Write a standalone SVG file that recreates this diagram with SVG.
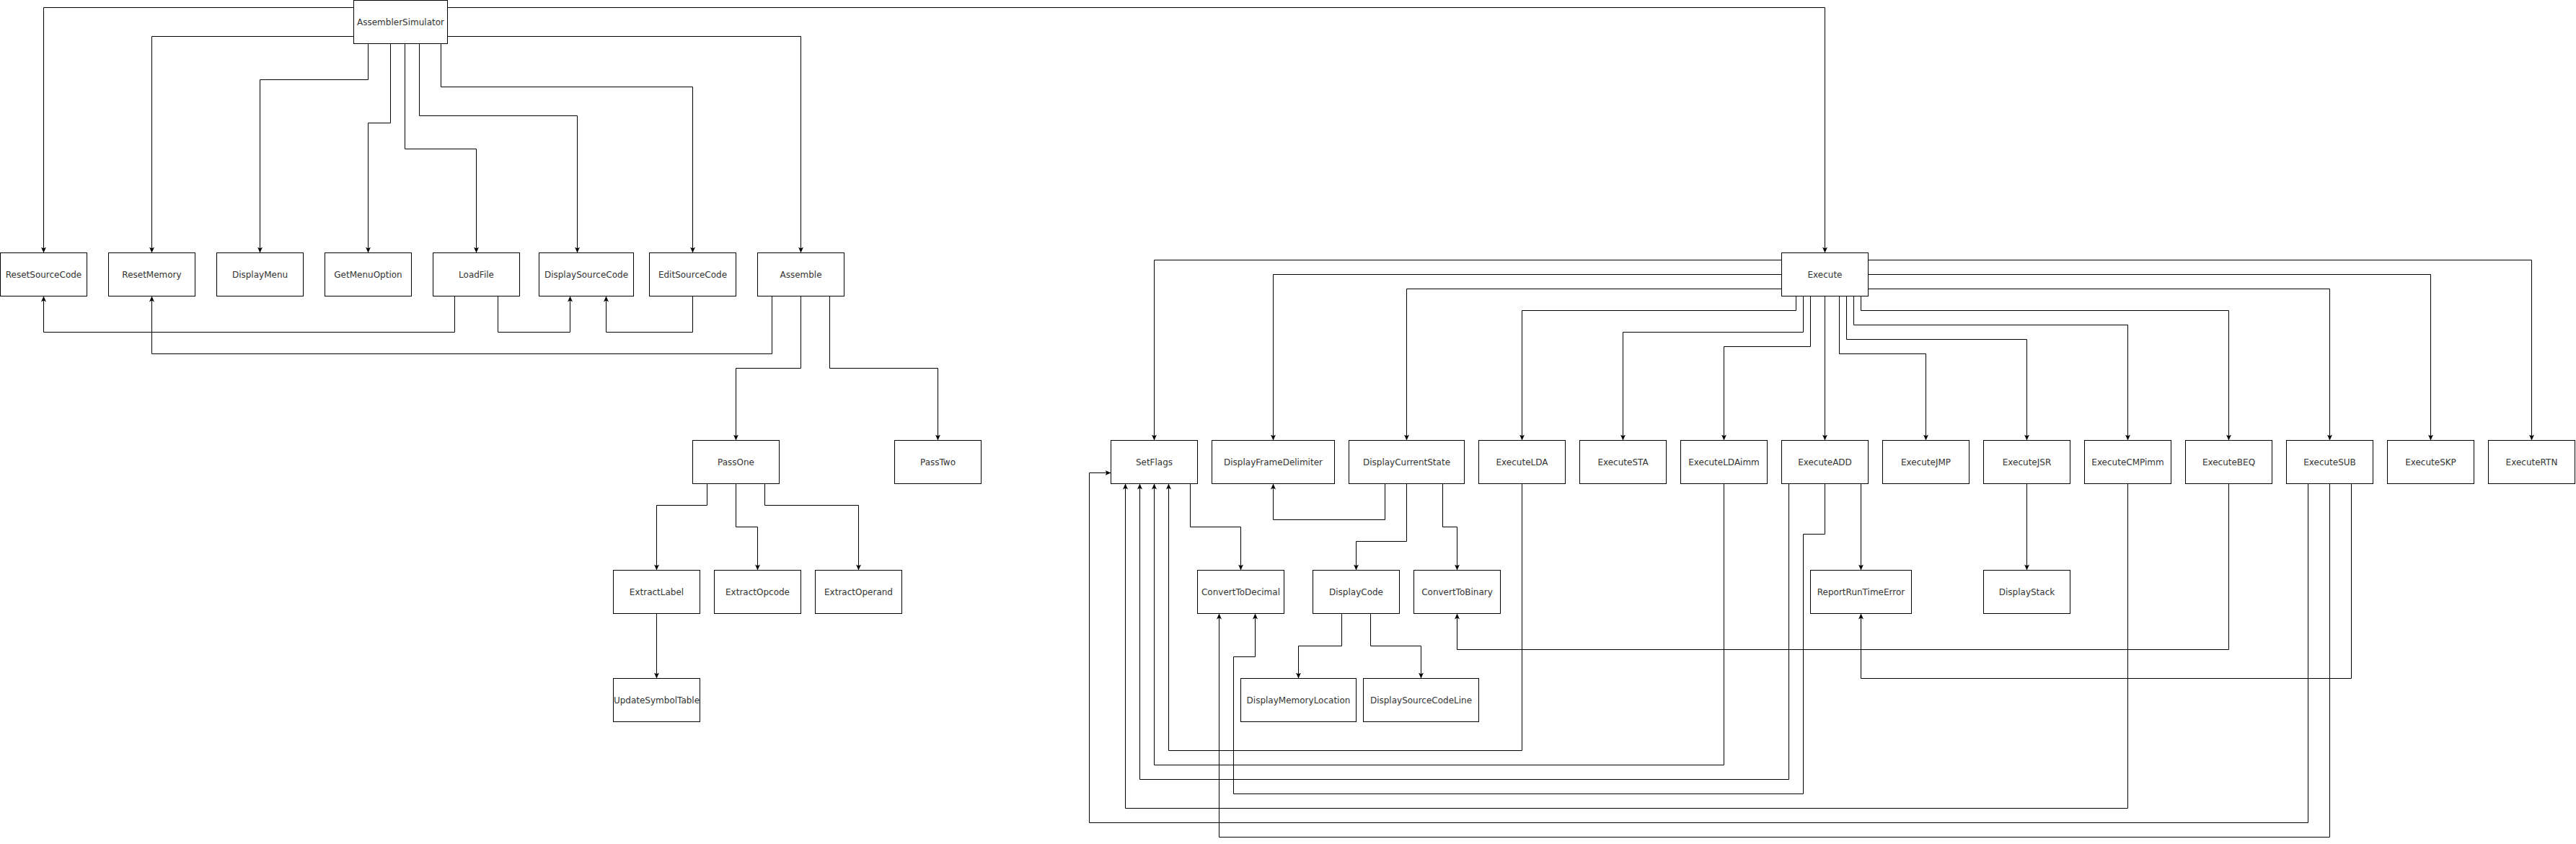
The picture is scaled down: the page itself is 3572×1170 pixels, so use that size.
<svg xmlns="http://www.w3.org/2000/svg" width="3572" height="1170" viewBox="0 0 3572 1170">
<style>
.n rect{fill:#fff;stroke:#000;stroke-width:1}
.n text{font-family:"DejaVu Sans",Verdana,sans-serif;font-size:12px;fill:#333;text-anchor:middle}
#edges path{fill:none;stroke:#000;stroke-width:1;marker-end:url(#a)}
</style>
<defs>
<marker id="a" markerUnits="userSpaceOnUse" markerWidth="8" markerHeight="8" viewBox="0 0 8 8" refX="8" refY="4" orient="auto">
<path d="M0,0.5 L8,4 L0,7.5 L2,4 Z" fill="#000"/>
</marker>
</defs>
<rect width="3572" height="1170" fill="#fff"/>
<g transform="translate(0.5,0.5)">
<g id="edges">
<path d="M490,10 H60 V350"/>
<path d="M490,50 H210 V350"/>
<path d="M510,60 V110 H360 V350"/>
<path d="M541,60 V170 H510 V350"/>
<path d="M561,60 V206 H660 V350"/>
<path d="M581,60 V160 H800 V350"/>
<path d="M611,60 V120 H960 V350"/>
<path d="M620,50 H1110 V350"/>
<path d="M620,10 H2530 V350"/>
<path d="M630,410 V460 H60 V410"/>
<path d="M690,410 V460 H790 V410"/>
<path d="M960,410 V460 H840 V410"/>
<path d="M1070,410 V490 H210 V410"/>
<path d="M1110,410 V510 H1020 V610"/>
<path d="M1150,410 V510 H1300 V610"/>
<path d="M980,670 V700 H910 V790"/>
<path d="M1020,670 V730 H1050 V790"/>
<path d="M1060,670 V700 H1190 V790"/>
<path d="M910,850 V940"/>
<path d="M2470,360 H1600 V610"/>
<path d="M2470,380 H1765 V610"/>
<path d="M2470,400 H1950 V610"/>
<path d="M2490,410 V430 H2110 V610"/>
<path d="M2500,410 V460 H2250 V610"/>
<path d="M2510,410 V480 H2390 V610"/>
<path d="M2530,410 V610"/>
<path d="M2550,410 V490 H2670 V610"/>
<path d="M2560,410 V470 H2810 V610"/>
<path d="M2570,410 V450 H2950 V610"/>
<path d="M2580,410 V430 H3090 V610"/>
<path d="M2590,400 H3230 V610"/>
<path d="M2590,380 H3370 V610"/>
<path d="M2590,360 H3510 V610"/>
<path d="M1650,670 V730 H1720 V790"/>
<path d="M1920,670 V720 H1765 V670"/>
<path d="M1950,670 V750 H1880 V790"/>
<path d="M2000,670 V730 H2020 V790"/>
<path d="M1860,850 V895 H1800 V940"/>
<path d="M1900,850 V895 H1970 V940"/>
<path d="M2110,670 V1040 H1620 V670"/>
<path d="M2390,670 V1060 H1600 V670"/>
<path d="M2480,670 V1080 H1580 V670"/>
<path d="M2530,670 V740 H2500 V1100 H1710 V910 H1740 V850"/>
<path d="M2580,670 V790"/>
<path d="M2810,670 V790"/>
<path d="M2950,670 V1120 H1560 V670"/>
<path d="M3090,670 V900 H2020 V850"/>
<path d="M3260,670 V940 H2580 V850"/>
<path d="M3200,670 V1140 H1510 V655 H1540"/>
<path d="M3230,670 V1160 H1690 V850"/>
</g>
<g id="AssemblerSimulator" class="n"><rect x="490" y="0" width="130" height="60"/><text x="555" y="34">AssemblerSimulator</text></g>
<g id="ResetSourceCode" class="n"><rect x="0" y="350" width="120" height="60"/><text x="60" y="384">ResetSourceCode</text></g>
<g id="ResetMemory" class="n"><rect x="150" y="350" width="120" height="60"/><text x="210" y="384">ResetMemory</text></g>
<g id="DisplayMenu" class="n"><rect x="300" y="350" width="120" height="60"/><text x="360" y="384">DisplayMenu</text></g>
<g id="GetMenuOption" class="n"><rect x="450" y="350" width="120" height="60"/><text x="510" y="384">GetMenuOption</text></g>
<g id="LoadFile" class="n"><rect x="600" y="350" width="120" height="60"/><text x="660" y="384">LoadFile</text></g>
<g id="DisplaySourceCode" class="n"><rect x="747" y="350" width="131" height="60"/><text x="812.5" y="384">DisplaySourceCode</text></g>
<g id="EditSourceCode" class="n"><rect x="900" y="350" width="120" height="60"/><text x="960" y="384">EditSourceCode</text></g>
<g id="Assemble" class="n"><rect x="1050" y="350" width="120" height="60"/><text x="1110" y="384">Assemble</text></g>
<g id="PassOne" class="n"><rect x="960" y="610" width="120" height="60"/><text x="1020" y="644">PassOne</text></g>
<g id="PassTwo" class="n"><rect x="1240" y="610" width="120" height="60"/><text x="1300" y="644">PassTwo</text></g>
<g id="ExtractLabel" class="n"><rect x="850" y="790" width="120" height="60"/><text x="910" y="824">ExtractLabel</text></g>
<g id="ExtractOpcode" class="n"><rect x="990" y="790" width="120" height="60"/><text x="1050" y="824">ExtractOpcode</text></g>
<g id="ExtractOperand" class="n"><rect x="1130" y="790" width="120" height="60"/><text x="1190" y="824">ExtractOperand</text></g>
<g id="UpdateSymbolTable" class="n"><rect x="850" y="940" width="120" height="60"/><text x="910" y="974">UpdateSymbolTable</text></g>
<g id="Execute" class="n"><rect x="2470" y="350" width="120" height="60"/><text x="2530" y="384">Execute</text></g>
<g id="SetFlags" class="n"><rect x="1540" y="610" width="120" height="60"/><text x="1600" y="644">SetFlags</text></g>
<g id="DisplayFrameDelimiter" class="n"><rect x="1680" y="610" width="170" height="60"/><text x="1765" y="644">DisplayFrameDelimiter</text></g>
<g id="DisplayCurrentState" class="n"><rect x="1870" y="610" width="160" height="60"/><text x="1950" y="644">DisplayCurrentState</text></g>
<g id="ExecuteLDA" class="n"><rect x="2050" y="610" width="120" height="60"/><text x="2110" y="644">ExecuteLDA</text></g>
<g id="ExecuteSTA" class="n"><rect x="2190" y="610" width="120" height="60"/><text x="2250" y="644">ExecuteSTA</text></g>
<g id="ExecuteLDAimm" class="n"><rect x="2330" y="610" width="120" height="60"/><text x="2390" y="644">ExecuteLDAimm</text></g>
<g id="ExecuteADD" class="n"><rect x="2470" y="610" width="120" height="60"/><text x="2530" y="644">ExecuteADD</text></g>
<g id="ExecuteJMP" class="n"><rect x="2610" y="610" width="120" height="60"/><text x="2670" y="644">ExecuteJMP</text></g>
<g id="ExecuteJSR" class="n"><rect x="2750" y="610" width="120" height="60"/><text x="2810" y="644">ExecuteJSR</text></g>
<g id="ExecuteCMPimm" class="n"><rect x="2890" y="610" width="120" height="60"/><text x="2950" y="644">ExecuteCMPimm</text></g>
<g id="ExecuteBEQ" class="n"><rect x="3030" y="610" width="120" height="60"/><text x="3090" y="644">ExecuteBEQ</text></g>
<g id="ExecuteSUB" class="n"><rect x="3170" y="610" width="120" height="60"/><text x="3230" y="644">ExecuteSUB</text></g>
<g id="ExecuteSKP" class="n"><rect x="3310" y="610" width="120" height="60"/><text x="3370" y="644">ExecuteSKP</text></g>
<g id="ExecuteRTN" class="n"><rect x="3450" y="610" width="120" height="60"/><text x="3510" y="644">ExecuteRTN</text></g>
<g id="ConvertToDecimal" class="n"><rect x="1660" y="790" width="120" height="60"/><text x="1720" y="824">ConvertToDecimal</text></g>
<g id="DisplayCode" class="n"><rect x="1820" y="790" width="120" height="60"/><text x="1880" y="824">DisplayCode</text></g>
<g id="ConvertToBinary" class="n"><rect x="1960" y="790" width="120" height="60"/><text x="2020" y="824">ConvertToBinary</text></g>
<g id="ReportRunTimeError" class="n"><rect x="2510" y="790" width="140" height="60"/><text x="2580" y="824">ReportRunTimeError</text></g>
<g id="DisplayStack" class="n"><rect x="2750" y="790" width="120" height="60"/><text x="2810" y="824">DisplayStack</text></g>
<g id="DisplayMemoryLocation" class="n"><rect x="1720" y="940" width="160" height="60"/><text x="1800" y="974">DisplayMemoryLocation</text></g>
<g id="DisplaySourceCodeLine" class="n"><rect x="1890" y="940" width="160" height="60"/><text x="1970" y="974">DisplaySourceCodeLine</text></g>
</g>
</svg>
